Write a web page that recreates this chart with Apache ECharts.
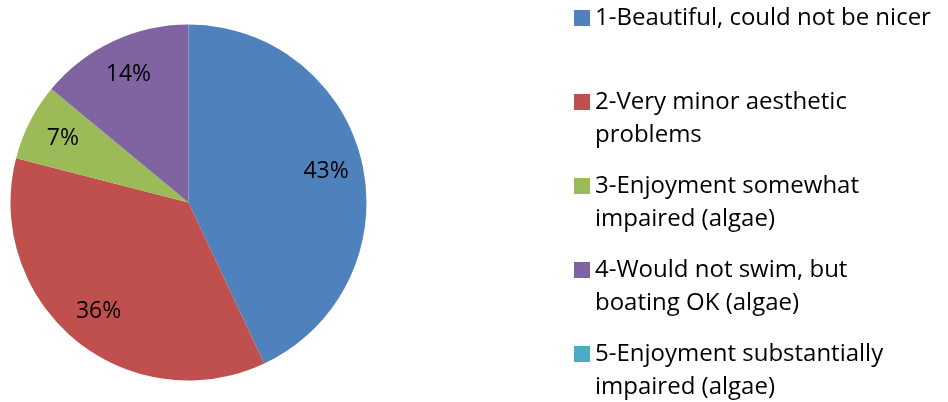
<!DOCTYPE html>
<html>
<head>
<meta charset="utf-8">
<script src="https://cdn.jsdelivr.net/npm/echarts@6/dist/echarts.min.js"></script>
<style>
html,body{margin:0;padding:0;background:#fff;}
#chart{width:948px;height:402px;}
</style>
</head>
<body>
<div id="chart"></div>
<script>
var categories = [
  '1-Beautiful, could not be nicer',
  '2-Very minor aesthetic problems',
  '3-Enjoyment somewhat impaired (algae)',
  '4-Would not swim, but boating OK (algae)',
  '5-Enjoyment substantially impaired (algae)'
];
var legendLines = [
  '1-Beautiful, could not be nicer',
  '2-Very minor aesthetic\nproblems',
  '3-Enjoyment somewhat\nimpaired (algae)',
  '4-Would not swim, but\nboating OK (algae)',
  '5-Enjoyment substantially\nimpaired (algae)'
];
var values = [43, 36, 7, 14, 0];
var colors = ['#4F81BD', '#C0504D', '#9BBB59', '#8064A2', '#4BACC6'];

var FONT = '"Open Sans"';
var FS = 24;
var LFS = 23;
var LH = 33;

var data = categories.map(function (c, i) {
  return { name: c, value: values[i], itemStyle: { color: colors[i] } };
});

var legends = categories.map(function (c, i) {
  var twoLine = legendLines[i].indexOf('\n') >= 0;
  var iconCenter = 18 + 84 * i;
  var boxH = twoLine ? LH * 3 : LH;
  var txt = twoLine ? ' \n' + legendLines[i] : legendLines[i];
  return {
    show: true,
    orient: 'vertical',
    left: 574,
    top: iconCenter - boxH / 2,
    padding: 0,
    itemWidth: 16,
    itemHeight: 16,
    icon: 'rect',
    selectedMode: false,
    data: [c],
    formatter: function () { return txt; },
    textStyle: {
      fontFamily: FONT,
      fontSize: FS,
      lineHeight: LH,
      color: '#000'
    }
  };
});

var chart = echarts.init(document.getElementById('chart'), null, { renderer: 'canvas' });
chart.setOption({
  animation: false,
  backgroundColor: '#fff',
  color: colors,
  legend: legends,
  series: [
    {
      type: 'pie',
      center: [188.5, 202.5],
      radius: [0, 178],
      startAngle: 90,
      clockwise: true,
      silent: true,
      label: { show: false },
      labelLine: { show: false },
      itemStyle: { borderWidth: 0 },
      data: data
    },
    {
      type: 'pie',
      center: [188.5, 202.5],
      radius: [98, 178],
      startAngle: 90,
      clockwise: true,
      silent: true,
      legendHoverLink: false,
      itemStyle: { color: 'rgba(0,0,0,0)', borderWidth: 0 },
      label: {
        show: true,
        position: 'inside',
        fontFamily: FONT,
        fontSize: LFS,
        color: '#000',
        formatter: function (p) { return p.value > 0 ? p.value + '%' : ''; }
      },
      labelLine: { show: false },
      data: data.map(function (d) { return { name: d.name, value: d.value }; })
    }
  ]
});
</script>
</body>
</html>
